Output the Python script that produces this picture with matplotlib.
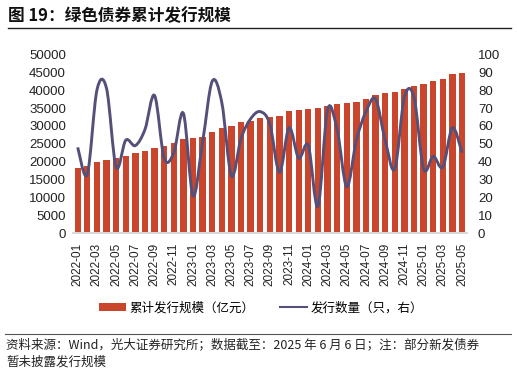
import matplotlib
matplotlib.use("Agg")
import matplotlib.pyplot as plt
from matplotlib.path import Path
from matplotlib.patches import PathPatch
from matplotlib.lines import Line2D
from matplotlib.patches import Patch

plt.rcParams['font.family'] = ['Noto Sans CJK SC', 'DejaVu Sans']

months = [f"{y}-{m:02d}" for y in (2022, 2023, 2024) for m in range(1, 13)] + \
         [f"2025-{m:02d}" for m in range(1, 6)]

# 累计发行规模（亿元）
cum_amount = [18300, 18800, 19800, 20600, 21100, 21700, 22300, 23100, 23900, 24500,
              25100, 26300, 26500, 26800, 28200, 29300, 30100, 31000, 31400, 32100,
              32400, 32900, 34100, 34500, 34700, 34900, 35500, 36100, 36400, 36800,
              37400, 38600, 39200, 39600, 40300, 41200, 41600, 42500, 43100, 44500,
              44900]

# 发行数量（只，右）
issue_count = [48, 33, 80, 81, 37, 52, 49, 58, 77, 42,
               45, 67, 21, 51, 85, 73, 32, 53, 64, 68,
               61, 34, 59, 42, 49, 15, 69, 58, 26, 52,
               68, 75, 52, 36, 76, 76, 36, 43, 37, 59,
               45]

bar_color = '#C9452B'
line_color = '#54507A'
tick_font = 'Liberation Sans'

fig = plt.figure(figsize=(5.17, 3.73), dpi=100)
ax = fig.add_axes([0.141, 0.375, 0.762, 0.479])
ax2 = ax.twinx()

x = list(range(len(months)))
ax.bar(x, cum_amount, width=0.66, color=bar_color, zorder=2)
ax.set_xlim(-0.5, len(months) - 0.5)
ax.set_ylim(0, 50000)
ax.set_yticks(range(0, 50001, 5000))
ax.set_xticks(x[::2])
ax.set_xticklabels(months[::2], rotation=90, fontsize=8.5, family=tick_font)
for lab in ax.get_yticklabels():
    lab.set_family(tick_font)
    lab.set_fontsize(9.5)
ax.tick_params(axis='x', length=0, pad=7, colors='#222222')
ax.tick_params(axis='y', length=0, pad=5, colors='#222222')

# smoothed line (Catmull-Rom style bezier through the points)
pts = list(zip(x, issue_count))
verts = [pts[0]]
codes = [Path.MOVETO]
n = len(pts)
for i in range(n - 1):
    p0 = pts[i - 1] if i > 0 else pts[i]
    p1 = pts[i]
    p2 = pts[i + 1]
    p3 = pts[i + 2] if i + 2 < n else pts[i + 1]
    c1 = (p1[0] + (p2[0] - p0[0]) / 6, p1[1] + (p2[1] - p0[1]) / 6)
    c2 = (p2[0] - (p3[0] - p1[0]) / 6, p2[1] - (p3[1] - p1[1]) / 6)
    verts += [c1, c2, p2]
    codes += [Path.CURVE4] * 3
ax2.add_patch(PathPatch(Path(verts, codes), facecolor='none',
                        edgecolor=line_color, lw=2.1, zorder=3))
ax2.set_ylim(0, 100)
ax2.set_yticks(range(0, 101, 10))
for lab in ax2.get_yticklabels():
    lab.set_family(tick_font)
    lab.set_fontsize(9.5)
ax2.tick_params(axis='y', length=0, pad=8, colors='#222222')

for a in (ax, ax2):
    for s in ('top', 'left', 'right'):
        a.spines[s].set_visible(False)
    a.spines['bottom'].set_color('#D9D9D9')
    a.spines['bottom'].set_linewidth(1.2)

handles = [Patch(facecolor=bar_color), Line2D([0], [0], color=line_color, lw=1.5)]
fig.legend(handles, ['累计发行规模（亿元）', '发行数量（只，右）'],
           loc='center', bbox_to_anchor=(0.505, 0.174), ncol=2, frameon=False,
           fontsize=9, handlelength=2.2, handleheight=0.6, columnspacing=2.0,
           handletextpad=0.3)

fig.text(0.016, 0.957, '图 19：绿色债券累计发行规模', fontsize=12, fontweight='bold',
         va='center', ha='left', color='#111111')
fig.add_artist(Line2D([0.016, 0.988], [0.925, 0.925], color='#222222', lw=1.0))
fig.add_artist(Line2D([0.01, 0.988], [0.104, 0.104], color='#555555', lw=0.8))
fig.text(0.012, 0.075, '资料来源：Wind，光大证券研究所；数据截至：2025 年 6 月 6 日；注：部分新发债券',
         fontsize=9, va='center', ha='left', color='#222222')
fig.text(0.012, 0.028, '暂未披露发行规模', fontsize=9, va='center', ha='left', color='#222222')

fig.savefig('out.png', dpi=100)
